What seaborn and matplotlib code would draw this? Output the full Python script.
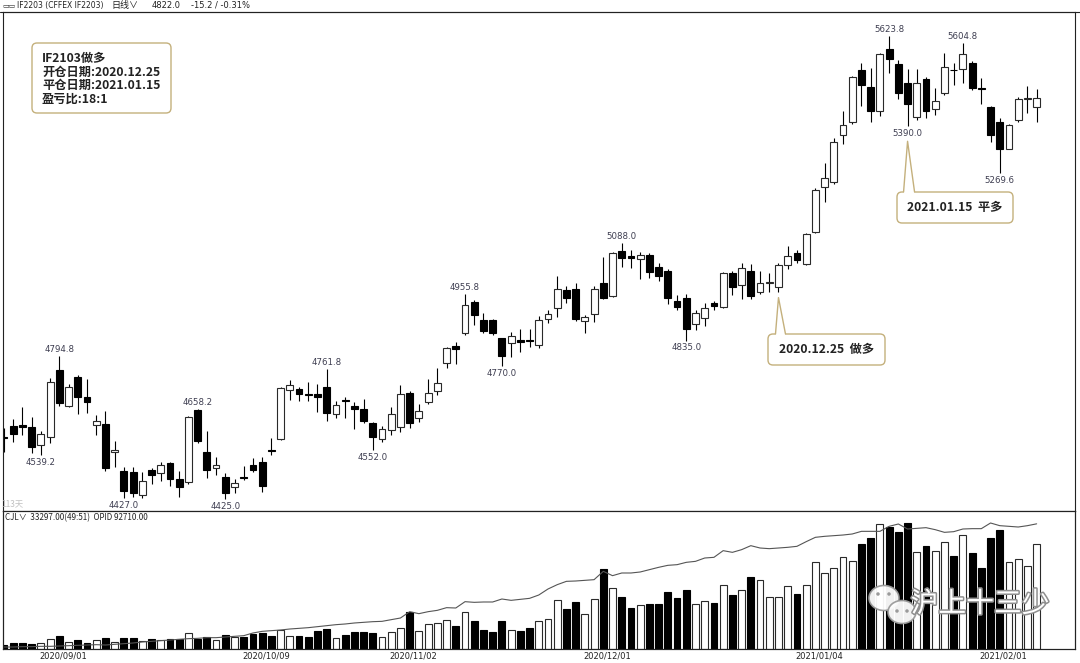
import numpy as np
import pandas as pd
import seaborn as sns
import matplotlib.pyplot as plt
from matplotlib.patches import FancyBboxPatch, Polygon, Ellipse
import matplotlib.patheffects as pe

# daily bars IF2103, 2020-08-24 .. 2021-02-05 (113 trading days)
opens = [4586, 4614, 4616, 4611, 4565, 4586, 4759, 4667, 4742, 4690,
         4616, 4619, 4546, 4497, 4495, 4435, 4499, 4492, 4519, 4476,
         4468, 4655, 4548, 4505, 4482, 4457, 4481, 4513, 4521, 4551,
         4580, 4706, 4709, 4697, 4697, 4716, 4646, 4681, 4667, 4658,
         4623, 4580, 4603, 4612, 4699, 4634, 4677, 4705, 4778, 4820,
         4856, 4935, 4888, 4888, 4841, 4828, 4838, 4836, 4824, 4891,
         4919, 4966, 4969, 4887, 4903, 4985, 4950, 5067, 5055, 5046,
         5058, 5025, 5016, 4938, 4946, 4878, 4893, 4932, 4923, 5009,
         4979, 5015, 4962, 4985, 4975, 5031, 5063, 5034, 5117, 5234,
         5247, 5367, 5400, 5536, 5493, 5430, 5589, 5551, 5503, 5413,
         5512, 5434, 5475, 5537, 5538, 5553, 5489, 5439, 5402, 5331,
         5406, 5460, 5441]

highs = [4609, 4632, 4663, 4637, 4600, 4738, 4794.8, 4722, 4745, 4736,
         4643, 4652, 4575, 4509, 4507, 4494, 4505, 4522, 4522, 4498,
         4640, 4658.2, 4601, 4533, 4492, 4478, 4510, 4531, 4533, 4584,
         4716, 4733, 4716, 4728, 4723, 4761.8, 4679, 4689, 4677, 4685,
         4625, 4614, 4664, 4719, 4704, 4671, 4736, 4764, 4818, 4831,
         4955.8, 4940, 4907, 4892, 4843, 4858, 4864, 4864, 4900, 4914,
         5003, 4977, 4984, 4901, 4977, 5052, 5065, 5088.0, 5070, 5065,
         5062, 5035, 5020, 4953, 4956, 4914, 4932, 4937, 5014, 5016,
         5037, 5033, 5015, 5009, 5035, 5080, 5071, 5114, 5230, 5296,
         5360, 5430, 5521, 5555, 5540, 5581, 5623.8, 5562, 5538, 5538,
         5518, 5488, 5579, 5555, 5604.8, 5558, 5514, 5443, 5411, 5397,
         5467, 5494, 5486]

lows = [4548, 4573, 4590, 4544, 4539.2, 4571, 4666, 4664, 4645, 4648,
        4590, 4497, 4509, 4427.0, 4430, 4428, 4464, 4471, 4458, 4430,
        4465, 4570, 4480, 4487, 4425.0, 4440, 4474, 4496, 4444, 4539,
        4577, 4681, 4679, 4679, 4651, 4628, 4635, 4635, 4606, 4622,
        4552.0, 4572, 4591, 4599, 4609, 4625, 4671, 4694, 4765, 4775,
        4850, 4876, 4856, 4850, 4770.0, 4793, 4806, 4819, 4815, 4881,
        4897, 4932, 4887, 4855, 4884, 4943, 4948, 5027, 5022, 4994,
        4998, 4990, 4930, 4914, 4835.0, 4863, 4873, 4915, 4920, 4953,
        4942, 4942, 4955, 4962, 4962, 5020, 5036, 5031, 5115, 5195,
        5240, 5344, 5396, 5443, 5402, 5417, 5529, 5460, 5390.0, 5406,
        5411, 5419, 5470, 5497, 5501, 5484, 5448, 5350, 5269.6, 5331,
        5400, 5425, 5402]

closes = [4582, 4593, 4612, 4559, 4594, 4729, 4674, 4716, 4690, 4677,
          4627, 4505, 4553, 4446, 4440, 4471, 4487, 4513, 4476, 4456,
          4637, 4576, 4500, 4512, 4440, 4467, 4479, 4500, 4459, 4549,
          4713, 4720, 4696, 4695, 4689, 4649, 4669, 4679, 4658, 4627,
          4586, 4606, 4646, 4697, 4622, 4653, 4700, 4726, 4815, 4813,
          4927, 4901, 4861, 4856, 4795, 4848, 4831, 4834, 4888, 4903,
          4969, 4945, 4890, 4897, 4970, 4946, 5061, 5050, 5048, 5058,
          5014, 5002, 4945, 4923, 4864, 4906, 4919, 4925, 5011, 4975,
          5022, 4951, 4985, 4987, 5031, 5053, 5043, 5110, 5225, 5257,
          5349, 5393, 5518, 5497, 5430, 5577, 5563, 5475, 5448, 5503,
          5430, 5456, 5543, 5535, 5577, 5490, 5487, 5367, 5331, 5393,
          5460, 5462, 5463]

volumes = [1270, 1800, 1800, 1590, 1800, 3070, 4030, 2120, 2970, 2010,
           2760, 3390, 2330, 3600, 3390, 2440, 3180, 2970, 3180, 3180,
           4980, 3290, 3710, 2860, 4450, 3820, 3820, 4770, 4980, 4030,
           6040, 4030, 4030, 3820, 5620, 6360, 3600, 4350, 5300, 5510,
           4980, 3920, 5410, 6570, 11870, 5620, 7950, 8160, 9330, 7420,
           11660, 9010, 6040, 5410, 8800, 6040, 5620, 6780, 8800, 9430,
           15690, 12720, 14840, 11130, 16010, 25440, 19290, 16430, 13040, 13890,
           14420, 14420, 18130, 16220, 18870, 14420, 15160, 14630, 20460, 17280,
           18660, 22900, 22050, 16540, 16640, 19930, 17600, 20460, 27670, 24060,
           25650, 29150, 27880, 33500, 35300, 39640, 38800, 37100, 40070, 30950,
           32650, 31270, 34130, 29470, 36150, 30530, 25650, 35300, 37740, 27560,
           28730, 26290, 33297]

open_interest = [31000, 31000, 31170, 31170, 31340, 31340, 31500, 31670, 31840, 32000,
                 32170, 32000, 32340, 32670, 33010, 33510, 33840, 34180, 34510, 34840,
                 35180, 35340, 35680, 35680, 36010, 36350, 36680, 38020, 38850, 39190,
                 39520, 40020, 40350, 40690, 41190, 41690, 42190, 42530, 43030, 43360,
                 43690, 43860, 44700, 45530, 48700, 47700, 48700, 49370, 50710, 50540,
                 53710, 53380, 53550, 53550, 55050, 54380, 54880, 55380, 57050, 60060,
                 62230, 63900, 64070, 64400, 64740, 68910, 66740, 68080, 68080, 68580,
                 69750, 70920, 71920, 72250, 73420, 73920, 75590, 75930, 79270, 78430,
                 79770, 81770, 80600, 80270, 80600, 80940, 81440, 83770, 85950, 86450,
                 86780, 87110, 87620, 88950, 88950, 88950, 91460, 92630, 90120, 90450,
                 90790, 89790, 88450, 88780, 90120, 90290, 90290, 93130, 91790, 91460,
                 91120, 91790, 92710]

date_ticks = [6, 28, 44, 65, 88, 108]
date_labels = ["2020/09/01", "2020/10/09", "2020/11/02",
               "2020/12/01", "2021/01/04", "2021/02/01"]

high_marks = [6, 21, 35, 50, 67, 96, 104]
low_marks = [4, 13, 24, 40, 54, 74, 98, 108]

open_idx = 84
close_idx = 98

df = pd.DataFrame({"open": opens, "high": highs, "low": lows,
                   "close": closes, "vol": volumes, "oi": open_interest})
df["idx"] = np.arange(len(df))
up = df["close"] >= df["open"]
face = np.where(up, "white", "black")
edge = np.where(up, "#2a2a2a", "black")

sns.set_theme(style="white")
plt.rcParams["font.family"] = ["DejaVu Sans", "Noto Sans CJK SC"]
CJK = ["Noto Sans CJK SC", "DejaVu Sans"]
TAN = "#c4b07c"

W, H = 1080, 663
fig = plt.figure(figsize=(W / 100, H / 100), dpi=100)


def frac(x0, y0, x1, y1):
    return [x0 / W, 1 - y1 / H, (x1 - x0) / W, (y1 - y0) / H]


ax_p = fig.add_axes(frac(3, 12, 1075, 511))
ax_v = fig.add_axes(frac(3, 511, 1075, 649), sharex=ax_p)

# price panel
ax_p.vlines(df["idx"], df["low"], df["high"], color="black", lw=0.8, zorder=1)
body_lo = np.minimum(df["open"], df["close"])
body_h = np.maximum(np.abs(df["close"] - df["open"]), 0.5)
ax_p.bar(df["idx"], body_h, bottom=body_lo, width=0.74, color=face,
         edgecolor=edge, linewidth=0.8, zorder=2)

for i in high_marks:
    ax_p.annotate(f"{highs[i]:.1f}", (i, highs[i]), xytext=(0, 1.5),
                  textcoords="offset points", ha="center", va="bottom",
                  fontsize=6.2, color="#3d3d50")
for i in low_marks:
    ax_p.annotate(f"{lows[i]:.1f}", (i, lows[i]), xytext=(0, -2),
                  textcoords="offset points", ha="center", va="top",
                  fontsize=6.2, color="#3d3d50")

ax_p.set_xlim(-0.11, 116.16)
ax_p.set_ylim(4394.0, 5685.9)
ax_p.set_xticks([])
ax_p.set_yticks([])

# volume panel + open interest
ax_v.bar(df["idx"], df["vol"], width=0.74, color=face, edgecolor=edge,
         linewidth=0.8, zorder=2)
ax_v.set_ylim(0, 43900)
ax_v.set_yticks([])
ax_v.set_xticks([t + 0.4 for t in date_ticks])
ax_v.set_xticklabels(date_labels)
ax_v.tick_params(axis="x", length=0, pad=2, labelsize=6, colors="#222222")

ax_oi = ax_v.twinx()
sns.lineplot(x=df["idx"], y=df["oi"], ax=ax_oi, color="#555555", lw=0.8)
ax_oi.set_ylim(30000, 99140)
ax_oi.set_yticks([])
ax_oi.set_ylabel("")
ax_v.set_xlabel("")

for a in (ax_p, ax_v, ax_oi):
    for s in a.spines.values():
        s.set_color("#222222")
        s.set_linewidth(0.8)

# overlay in pixel units for the panel texts and callouts
ax_o = fig.add_axes([0, 0, 1, 1], zorder=10)
ax_o.set_xlim(0, W)
ax_o.set_ylim(H, 0)
ax_o.axis("off")
ax_o.patch.set_alpha(0)

ax_o.plot([0, W], [12, 12], color="#222222", lw=0.8)
ax_o.text(2, 5.5, "▭▭", fontsize=5, color="#333333", va="center")
ax_o.text(17, 5.5, "IF2203 (CFFEX IF2203)", fontsize=5.5, color="#222222", va="center")
ax_o.text(111, 5.5, "日线∨", fontsize=6.5, family=CJK, color="#222222", va="center")
ax_o.text(152, 5.5, "4822.0", fontsize=6, color="#222222", va="center")
ax_o.text(191, 5.5, "-15.2 / -0.31%", fontsize=6, color="#222222", va="center")

ax_o.text(1, 504, "113天", fontsize=6, family=CJK, color="#c0c0c0", va="center")
ax_o.text(5, 518, "CJL∨  33297.00(49:51)  OPID 92710.00", fontsize=5.8,
          family=CJK, color="#222222", va="center")

# trade summary box
ax_o.add_patch(FancyBboxPatch((32, 43), 139, 70, boxstyle="round,pad=0,rounding_size=5",
                              fc="white", ec=TAN, lw=1.0))
summary = ["IF2103做多", "开仓日期:2020.12.25", "平仓日期:2021.01.15", "盈亏比:18:1"]
for k, line in enumerate(summary):
    ax_o.text(42, 58.5 + 13.5 * k, line, fontsize=8.8, family=CJK, weight="bold",
              color="#222222", va="center")


def to_overlay(x, y):
    disp = ax_p.transData.transform((x, y))
    return ax_o.transData.inverted().transform(disp)


def callout(x0, y0, x1, y1, bx0, bx1, tip, text):
    ax_o.add_patch(FancyBboxPatch((x0, y0), x1 - x0, y1 - y0,
                                  boxstyle="round,pad=0,rounding_size=5",
                                  fc="white", ec=TAN, lw=1.0))
    ax_o.add_patch(Polygon([(bx0, y0 + 1), tuple(tip), (bx1, y0 + 1)],
                           closed=True, fc="white", ec="none", zorder=3))
    ax_o.plot([bx0, tip[0], bx1], [y0, tip[1], y0], color=TAN, lw=1.0, zorder=4)
    ax_o.text((x0 + x1) / 2, (y0 + y1) / 2, text, fontsize=8.8, family=CJK,
              weight="bold", color="#222222", ha="center", va="center", zorder=5)


tip1 = to_overlay(open_idx, lows[open_idx])
tip1[1] += 6
callout(768, 334, 885, 365, tip1[0] - 3, tip1[0] + 7, tip1, "2020.12.25  做多")

tip2 = to_overlay(close_idx, lows[close_idx])
tip2[1] += 15
callout(897, 192, 1013, 223, tip2[0] - 4, tip2[0] + 7, tip2, "2021.01.15  平多")

# watermark
for (cx, cy, w, h) in [(884, 598, 30, 25), (902, 612, 28, 23)]:
    ax_o.add_patch(Ellipse((cx, cy), w, h, fc="white", ec="#9a9a9a", lw=1.2, alpha=0.95))
for (dx, dy) in [(878, 594), (889, 594), (897, 611), (907, 611)]:
    ax_o.add_patch(Ellipse((dx, dy), 3.5, 3.5, fc="#9a9a9a", ec="none"))
ax_o.text(980, 604, "沪上十三少", fontsize=20, family=CJK, color="white",
          ha="center", va="center",
          path_effects=[pe.withStroke(linewidth=2.2, foreground="#8f8f8f")])

fig.savefig("out.png", dpi=100)
plt.close(fig)
